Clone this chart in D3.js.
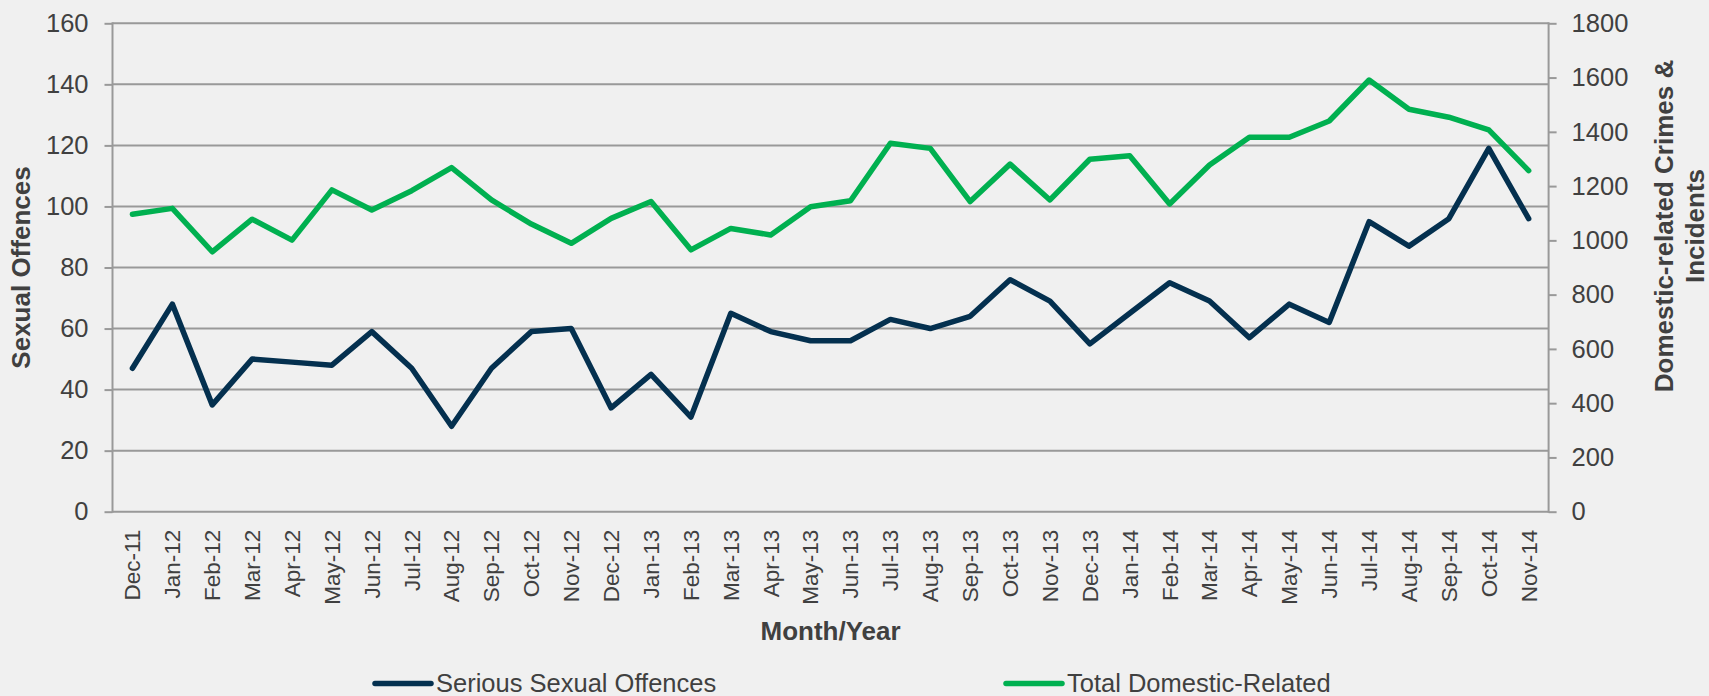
<!DOCTYPE html>
<html><head><meta charset="utf-8">
<script src="https://cdn.jsdelivr.net/npm/d3@7"></script>
<style>
body{margin:0;background:#f0f0f0;}
svg{display:block;}
text{font-family:"Liberation Sans",Arial,sans-serif;fill:#404040;}
</style>
</head><body><svg id="c" width="1709" height="696"></svg>
<script>
const months = ["Dec-11","Jan-12","Feb-12","Mar-12","Apr-12","May-12","Jun-12","Jul-12","Aug-12","Sep-12","Oct-12","Nov-12",
  "Dec-12","Jan-13","Feb-13","Mar-13","Apr-13","May-13","Jun-13","Jul-13","Aug-13","Sep-13","Oct-13","Nov-13",
  "Dec-13","Jan-14","Feb-14","Mar-14","Apr-14","May-14","Jun-14","Jul-14","Aug-14","Sep-14","Oct-14","Nov-14"];
const seriousSexualOffences = [47,68,35,50,49,48,59,47,28,47,59,60,
  34,45,31,65,59,56,56,63,60,64,76,69,
  55,65,75,69,57,68,62,95,87,96,119,96];
const totalDomesticRelated = [1096,1118,958,1078,1001,1186,1112,1183,1268,1149,1060,989,
  1081,1143,965,1044,1020,1124,1146,1358,1339,1143,1281,1149,
  1299,1312,1134,1278,1380,1380,1440,1591,1483,1454,1407,1257];
const leftTicks = [0,20,40,60,80,100,120,140,160];
const rightTicks = [0,200,400,600,800,1000,1200,1400,1600,1800];
const seriesNames = ["Serious Sexual Offences","Total Domestic-Related"];
const seriesColors = ["#04304f","#00b050"];

const svg = d3.select("#c");
const L = 112.5, R = 1548.6, T = 23.3, B = 511.7;
const FONT = '"Liberation Sans",Arial,sans-serif';
const x = d3.scaleBand().domain(months).range([L, R]);
const cx = m => x(m) + x.bandwidth()/2;
const yL = d3.scaleLinear().domain([0,160]).range([B, T]);
const yR = d3.scaleLinear().domain([0,1800]).range([B, T]);

// gridlines
svg.append("g").selectAll("line").data(leftTicks).join("line")
  .attr("x1", L).attr("x2", R).attr("y1", d=>yL(d)).attr("y2", d=>yL(d))
  .attr("stroke", "#999").attr("stroke-width", 2);

// left axis
const gl = svg.append("g").attr("transform", `translate(${L},0)`)
  .call(d3.axisLeft(yL).tickValues(leftTicks).tickFormat(d3.format("d")).tickSize(8).tickPadding(16));
gl.select(".domain").remove();
gl.selectAll(".tick line").attr("stroke","#999").attr("stroke-width",2);
gl.selectAll(".tick text").attr("font-size",25.5).attr("fill","#404040").attr("font-family",FONT);
svg.append("line").attr("x1",L).attr("x2",L).attr("y1",T-1).attr("y2",B+1).attr("stroke","#999").attr("stroke-width",2);

// right axis
const gr = svg.append("g").attr("transform", `translate(${R},0)`)
  .call(d3.axisRight(yR).tickValues(rightTicks).tickFormat(d3.format("d")).tickSize(8).tickPadding(15));
gr.select(".domain").remove();
gr.selectAll(".tick line").attr("stroke","#999").attr("stroke-width",2);
gr.selectAll(".tick text").attr("font-size",25.5).attr("fill","#404040").attr("font-family",FONT);
svg.append("line").attr("x1",R).attr("x2",R).attr("y1",T-1).attr("y2",B+1).attr("stroke","#999").attr("stroke-width",2);

// bottom axis
const gb = svg.append("g").attr("transform", `translate(0,${B})`)
  .call(d3.axisBottom(x).tickSize(0).tickPadding(0));
gb.select(".domain").remove();
gb.selectAll(".tick text")
  .attr("font-size",22.5).attr("fill","#404040").attr("font-family",FONT)
  .attr("transform","rotate(-90)")
  .attr("text-anchor","end")
  .attr("x",-18).attr("y",0).attr("dy","0.35em");

// lines
const lineL = d3.line().x((d,i)=>cx(months[i])).y(d=>yL(d));
const lineR = d3.line().x((d,i)=>cx(months[i])).y(d=>yR(d));
svg.append("path").datum(totalDomesticRelated).attr("d", lineR)
  .attr("fill","none").attr("stroke",seriesColors[1]).attr("stroke-width",5.5)
  .attr("stroke-linejoin","round").attr("stroke-linecap","round");
svg.append("path").datum(seriousSexualOffences).attr("d", lineL)
  .attr("fill","none").attr("stroke",seriesColors[0]).attr("stroke-width",5.5)
  .attr("stroke-linejoin","round").attr("stroke-linecap","round");

// axis titles
svg.append("text").attr("transform","translate(21,267.5) rotate(-90)")
  .attr("text-anchor","middle").attr("dy","0.35em")
  .attr("font-size",26).attr("font-weight","bold").text("Sexual Offences");
svg.append("text").attr("x",(L+R)/2).attr("y",640)
  .attr("text-anchor","middle").attr("font-size",26).attr("font-weight","bold").text("Month/Year");
svg.append("text").attr("transform","translate(1664,226) rotate(-90)")
  .attr("text-anchor","middle").attr("dy","0.35em")
  .attr("font-size",26).attr("font-weight","bold").text("Domestic-related Crimes &");
svg.append("text").attr("transform","translate(1694.5,226) rotate(-90)")
  .attr("text-anchor","middle").attr("dy","0.35em")
  .attr("font-size",26).attr("font-weight","bold").text("Incidents");

// legend
const legendX = [375, 1006];
const lg = svg.append("g").selectAll("g").data(seriesNames).join("g")
  .attr("transform",(d,i)=>`translate(${legendX[i]},683.5)`);
lg.append("line").attr("x1",0).attr("x2",56).attr("y1",0).attr("y2",0)
  .attr("stroke",(d,i)=>seriesColors[i]).attr("stroke-width",5.5).attr("stroke-linecap","round");
lg.append("text").attr("x",61).attr("y",8.8).attr("font-size",25.5).text(d=>d);
</script>
</body></html>
